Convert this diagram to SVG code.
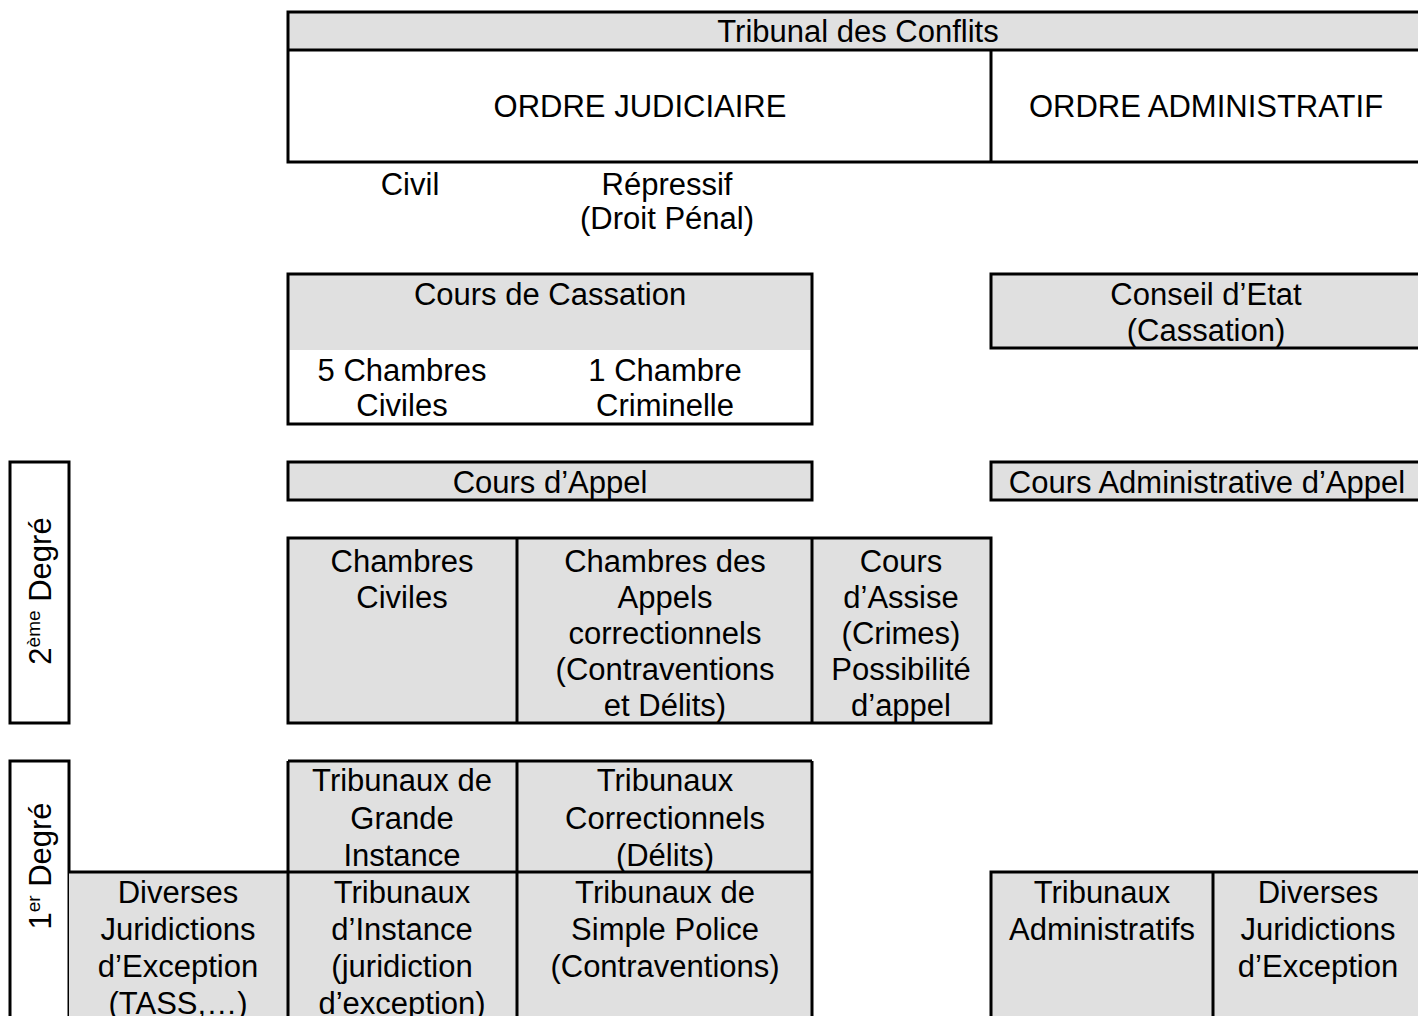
<svg xmlns="http://www.w3.org/2000/svg" width="1418" height="1016" viewBox="0 0 1418 1016">
<style>
text{font-family:"Liberation Sans",Arial,sans-serif;font-size:31px;fill:#000;text-anchor:middle}
.g{fill:#e0e0e0;stroke:none}
.b{fill:none;stroke:#000;stroke-width:3}
.l{stroke:#000;stroke-width:3;fill:none}
.sup{font-size:19px}
</style>
<rect width="1418" height="1016" fill="#fff"/>
<g id="tribunal-conflits">
<rect class="g" x="288" y="12" width="1150" height="38"/>
<rect class="b" x="288" y="12" width="1150" height="150"/>
<line class="l" x1="288" y1="50" x2="1438" y2="50"/>
<line class="l" x1="991" y1="50" x2="991" y2="162"/>
<text x="858" y="42">Tribunal des Conflits</text>
<text x="640" y="117">ORDRE JUDICIAIRE</text>
<text x="1206" y="117">ORDRE ADMINISTRATIF</text>
</g>
<g id="labels-civil-repressif">
<text x="410" y="195">Civil</text>
<text x="667" y="195">Répressif</text>
<text x="667" y="229">(Droit Pénal)</text>
</g>
<g id="cours-cassation">
<rect class="g" x="288" y="274" width="524" height="76"/>
<rect class="b" x="288" y="274" width="524" height="150"/>
<text x="550" y="305">Cours de Cassation</text>
<text x="402" y="381">5 Chambres</text>
<text x="402" y="416">Civiles</text>
<text x="665" y="381">1 Chambre</text>
<text x="665" y="416">Criminelle</text>
</g>
<g id="conseil-etat">
<rect class="g" x="991" y="274" width="450" height="74"/>
<rect class="b" x="991" y="274" width="450" height="74"/>
<text x="1206" y="305">Conseil d’Etat</text>
<text x="1206" y="341">(Cassation)</text>
</g>
<g id="cours-appel">
<rect class="g" x="288" y="462" width="524" height="38"/>
<rect class="b" x="288" y="462" width="524" height="38"/>
<text x="550" y="493">Cours d’Appel</text>
</g>
<g id="cours-admin-appel">
<rect class="g" x="991" y="462" width="450" height="38"/>
<rect class="b" x="991" y="462" width="450" height="38"/>
<text x="1207" y="493">Cours Administrative d’Appel</text>
</g>
<g id="chambres">
<rect class="g" x="288" y="538" width="703" height="185"/>
<rect class="b" x="288" y="538" width="703" height="185"/>
<line class="l" x1="517" y1="538" x2="517" y2="723"/>
<line class="l" x1="812" y1="538" x2="812" y2="723"/>
<text x="402" y="572">Chambres</text>
<text x="402" y="608">Civiles</text>
<text x="665" y="572">Chambres des</text>
<text x="665" y="608">Appels</text>
<text x="665" y="644">correctionnels</text>
<text x="665" y="680">(Contraventions</text>
<text x="665" y="716">et Délits)</text>
<text x="901" y="572">Cours</text>
<text x="901" y="608">d’Assise</text>
<text x="901" y="644">(Crimes)</text>
<text x="901" y="680">Possibilité</text>
<text x="901" y="716">d’appel</text>
</g>
<g id="degre-2">
<rect class="b" x="10" y="462" width="59" height="261"/>
<text transform="translate(51,591) rotate(-90)">2<tspan class="sup" dy="-11">ème</tspan><tspan dy="11"> Degré</tspan></text>
</g>
<g id="degre-1">
<rect class="b" x="10" y="761" width="59" height="280"/>
<text transform="translate(51,866) rotate(-90)">1<tspan class="sup" dy="-11">er</tspan><tspan dy="11"> Degré</tspan></text>
</g>
<g id="premier-degre-judiciaire">
<rect class="g" x="288" y="761" width="524" height="111"/>
<rect class="g" x="69" y="872" width="743" height="170"/>
<line class="l" x1="288" y1="761" x2="812" y2="761"/>
<line class="l" x1="69" y1="872" x2="812" y2="872"/>
<line class="l" x1="288" y1="761" x2="288" y2="1040"/>
<line class="l" x1="517" y1="761" x2="517" y2="1040"/>
<line class="l" x1="812" y1="761" x2="812" y2="1040"/>
<text x="402" y="791">Tribunaux de</text>
<text x="402" y="829">Grande</text>
<text x="402" y="866">Instance</text>
<text x="665" y="791">Tribunaux</text>
<text x="665" y="829">Correctionnels</text>
<text x="665" y="866">(Délits)</text>
<text x="178" y="903">Diverses</text>
<text x="178" y="940">Juridictions</text>
<text x="178" y="977">d’Exception</text>
<text x="178" y="1014">(TASS,…)</text>
<text x="402" y="903">Tribunaux</text>
<text x="402" y="940">d’Instance</text>
<text x="402" y="977">(juridiction</text>
<text x="402" y="1014">d’exception)</text>
<text x="665" y="903">Tribunaux de</text>
<text x="665" y="940">Simple Police</text>
<text x="665" y="977">(Contraventions)</text>
</g>
<g id="premier-degre-admin">
<rect class="g" x="991" y="872" width="450" height="170"/>
<rect class="b" x="991" y="872" width="450" height="170"/>
<line class="l" x1="1213" y1="872" x2="1213" y2="1040"/>
<text x="1102" y="903">Tribunaux</text>
<text x="1102" y="940">Administratifs</text>
<text x="1318" y="903">Diverses</text>
<text x="1318" y="940">Juridictions</text>
<text x="1318" y="977">d’Exception</text>
</g>
<g id="connectors"></g>
</svg>
